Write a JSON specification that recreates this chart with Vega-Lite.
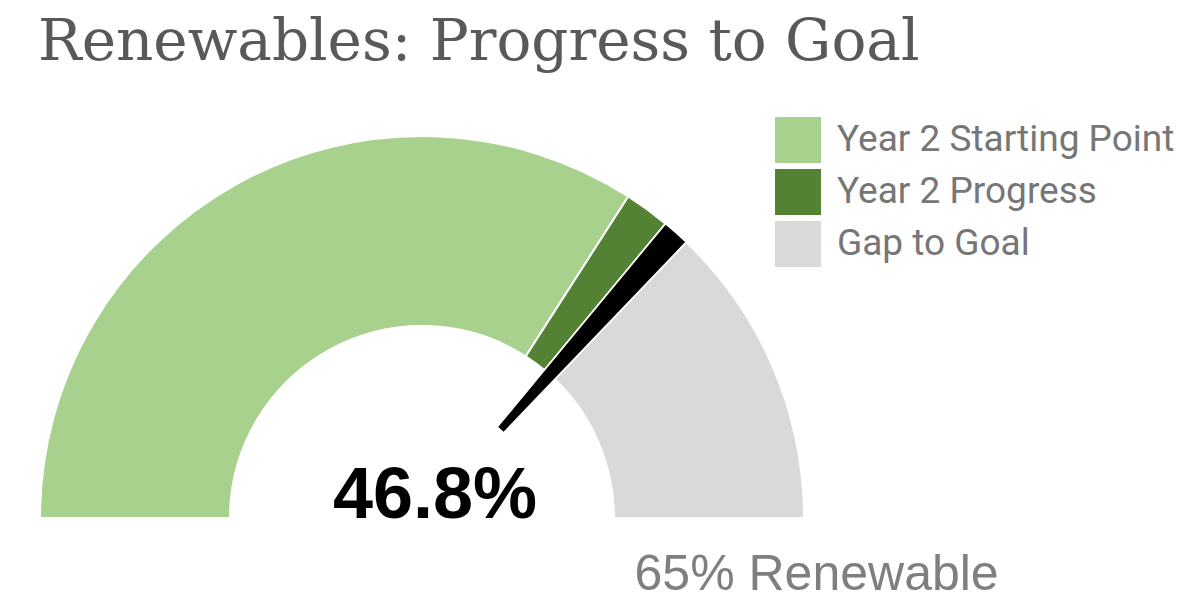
{
  "$schema": "https://vega.github.io/schema/vega-lite/v6.json",
  "width": 1182,
  "height": 534,
  "autosize": {"type": "none"},
  "padding": {"top": 80, "left": 0, "right": 0, "bottom": 0},
  "background": "white",
  "title": {
    "text": "Renewables: Progress to Goal",
    "anchor": "start",
    "frame": "group",
    "font": "DejaVu Serif",
    "fontSize": 58,
    "fontWeight": "normal",
    "color": "#595959",
    "dx": 38,
    "offset": 8
  },
  "config": {"view": {"stroke": null}},
  "datasets": {
    "gauge": [
      {"category": "Year 2 Starting Point", "rank": 1, "value": 44.3},
      {"category": "Year 2 Progress", "rank": 2, "value": 2.5},
      {"category": "Needle", "rank": 3, "value": 1.5},
      {"category": "Gap to Goal", "rank": 4, "value": 16.7}
    ]
  },
  "layer": [
    {
      "data": {"name": "gauge"},
      "transform": [
        {"stack": "value", "groupby": [], "sort": [{"field": "rank", "order": "ascending"}], "as": ["start", "end"]},
        {"filter": "datum.category !== 'Needle'"}
      ],
      "mark": {"type": "arc", "innerRadius": 192, "outerRadius": 382, "stroke": "white", "strokeWidth": 2},
      "encoding": {
        "x": {"datum": 0, "type": "quantitative", "scale": {"domain": [-1.10471, 1.98953], "nice": false, "zero": false}, "axis": null},
        "y": {"datum": 0, "type": "quantitative", "scale": {"domain": [-0.25131, 1.1466], "nice": false, "zero": false}, "axis": null},
        "theta": {"field": "start", "type": "quantitative", "scale": {"domain": [0, 65], "range": [-1.5708, 1.5708]}, "stack": null},
        "theta2": {"field": "end"},
        "color": {
          "field": "category",
          "type": "nominal",
          "scale": {"domain": ["Year 2 Starting Point", "Year 2 Progress", "Gap to Goal"], "range": ["#a9d18e", "#548235", "#d9d9d9"]},
          "legend": {
            "orient": "none",
            "legendX": 775,
            "legendY": 37,
            "title": null,
            "symbolType": "square",
            "symbolSize": 2116,
            "symbolStrokeWidth": 0,
            "labelFont": "Roboto",
            "labelFontSize": 37,
            "labelColor": "#767676",
            "labelOffset": 16,
            "rowPadding": 6,
            "labelLimit": 600
          }
        }
      }
    },
    {
      "data": {"name": "gauge"},
      "transform": [
        {"stack": "value", "groupby": [], "sort": [{"field": "rank", "order": "ascending"}], "as": ["start", "end"]},
        {"filter": "datum.category === 'Needle'"}
      ],
      "mark": {"type": "arc", "innerRadius": 118, "outerRadius": 382, "stroke": "white", "strokeWidth": 1.5, "fill": "black"},
      "encoding": {
        "x": {"datum": 0, "type": "quantitative"},
        "y": {"datum": 0, "type": "quantitative"},
        "theta": {"field": "start", "type": "quantitative", "stack": null},
        "theta2": {"field": "end"}
      }
    },
    {
      "data": {"values": [{"label": "46.8%"}]},
      "mark": {"type": "text", "font": "Liberation Sans", "fontWeight": "bold", "fontSize": 72, "color": "black", "align": "center", "baseline": "alphabetic"},
      "encoding": {
        "x": {"datum": 0.034, "type": "quantitative"},
        "y": {"datum": 0, "type": "quantitative"},
        "text": {"field": "label"}
      }
    },
    {
      "data": {"values": [{"label": "65% Renewable"}]},
      "mark": {"type": "text", "font": "Liberation Sans", "fontSize": 50, "color": "#7f7f7f", "align": "center", "baseline": "alphabetic"},
      "encoding": {
        "x": {"datum": 1.033, "type": "quantitative"},
        "y": {"datum": -0.1885, "type": "quantitative"},
        "text": {"field": "label"}
      }
    }
  ]
}
